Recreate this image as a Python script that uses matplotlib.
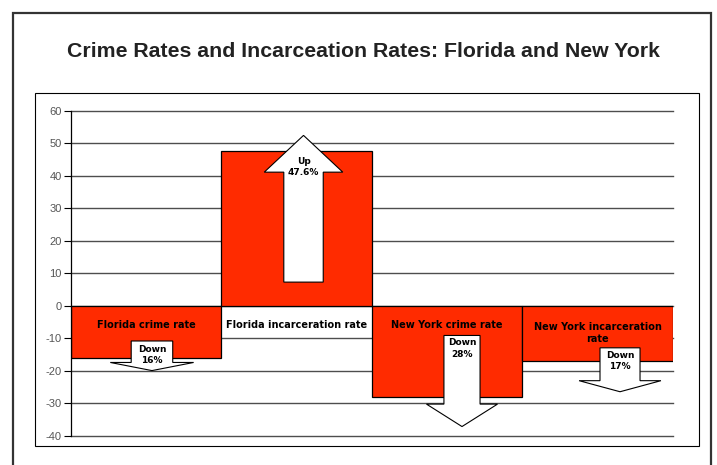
import numpy as np
import matplotlib.pyplot as plt
from matplotlib.patches import Rectangle, Polygon

plt.rcParams['axes.unicode_minus'] = False

# percent change per category
categories = ['Florida crime rate', 'Florida incarceration rate',
              'New York crime rate', 'New York incarceration\nrate']
changes = [-16, 47.6, -28, -17]
yticks = np.arange(-40, 61, 10)

# block arrows: (x offset, shaft half width, shaft start, head base, tip, head half width)
arrows = [
    (0.04, 0.138, -10.8, -17.4, -19.9, 0.277),
    (0.047, 0.131, 7.3, 41.1, 52.4, 0.261),
    (0.10, 0.12, -9.1, -30.2, -37.1, 0.236),
    (0.15, 0.133, -12.9, -23.0, -26.4, 0.272),
]
arrow_text_y = [-15.0, 42.6, -13.1, -17.0]
cat_text_y = [-5.75, -5.75, -5.75, -8.2]

fig = plt.figure(figsize=(7.17, 4.65), dpi=100)

# outer frame and inner chart box
fig.patches.append(Rectangle((0.018, -0.05), 0.9735, 1.022, transform=fig.transFigure,
                             fill=False, edgecolor='#333333', linewidth=1.6))
fig.patches.append(Rectangle((0.0488, 0.0419), 0.9254, 0.758, transform=fig.transFigure,
                             fill=False, edgecolor='black', linewidth=0.8))

fig.text(0.507, 0.890, 'Crime Rates and Incarceation Rates: Florida and New York',
         ha='center', va='center', fontsize=15.3, fontweight='bold',
         family='Liberation Sans', color='#222222')

ax = fig.add_axes([0.0986, 0.0624, 0.8396, 0.6996])
x = np.arange(len(categories))

for y in yticks:
    ax.axhline(y, color='#4d4d4d', linewidth=1.0, zorder=1, clip_on=False)

ax.bar(x, changes, width=1.0, color='#ff2b00', edgecolor='black', linewidth=0.9, zorder=2)

for i, (dx, sw, y0, yb, yt, hw) in enumerate(arrows):
    cx = x[i] + dx
    pts = [(cx - sw, y0), (cx - sw, yb), (cx - hw, yb), (cx, yt),
           (cx + hw, yb), (cx + sw, yb), (cx + sw, y0)]
    ax.add_patch(Polygon(pts, closed=True, facecolor='white', edgecolor='black',
                         linewidth=0.8, zorder=3))
    v = changes[i]
    label = ('Up' if v > 0 else 'Down') + '\n' + f'{abs(v):g}%'
    ax.text(cx, arrow_text_y[i], label, ha='center', va='center', fontsize=6.5,
            fontweight='bold', family='DejaVu Sans', linespacing=1.3, zorder=4)

for i, name in enumerate(categories):
    ax.text(x[i], cat_text_y[i], name, ha='center', va='center', fontsize=7,
            fontweight='bold', family='DejaVu Sans', linespacing=1.25, zorder=4)

ax.set_xlim(-0.5, 3.5)
ax.set_ylim(-40, 60)
ax.set_yticks(yticks)
ax.set_xticks([])
for s in ['top', 'right', 'bottom']:
    ax.spines[s].set_visible(False)
ax.spines['left'].set_linewidth(0.9)
ax.spines['left'].set_zorder(5)
ax.tick_params(axis='y', direction='out', length=5, width=0.8, pad=1.5,
               labelsize=8, labelcolor='#555555')
for t in ax.get_yticklabels():
    t.set_family('Liberation Sans')
ax.patch.set_alpha(0)

fig.savefig('out.png', dpi=100)
